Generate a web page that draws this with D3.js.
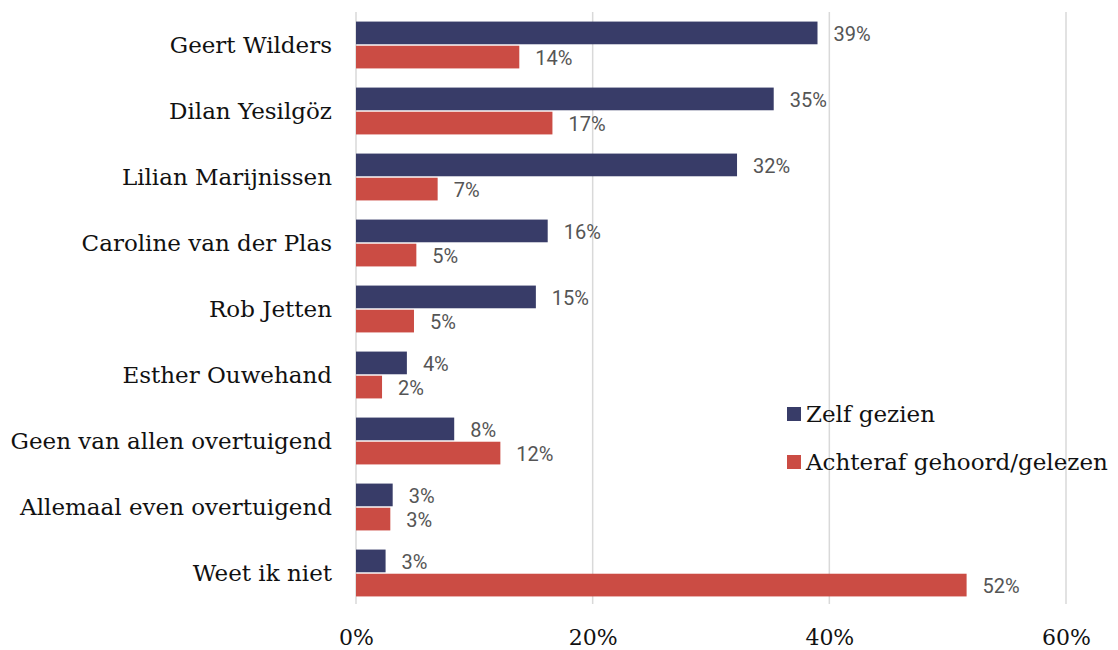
<!DOCTYPE html>
<html>
<head>
<meta charset="utf-8">
<script src="https://cdn.jsdelivr.net/npm/d3@7"></script>
<style>
  body { margin: 0; background: #fff; }
  .cat { font-family: "DejaVu Serif", serif; font-size: 23px; fill: #111; }
  .tick text { font-family: "DejaVu Serif", serif; font-size: 22px; fill: #111; }
  .val { font-family: Roboto, sans-serif; font-size: 20px; fill: #555; }
  .legend text { font-family: "DejaVu Serif", serif; font-size: 23px; fill: #111; }
</style>
</head>
<body>
<div id="chart"></div>
<script>
// categories and series
var categories = ["Geert Wilders", "Dilan Yesilgöz", "Lilian Marijnissen", "Caroline van der Plas",
                  "Rob Jetten", "Esther Ouwehand", "Geen van allen overtuigend",
                  "Allemaal even overtuigend", "Weet ik niet"];
var zelfGezien = [39.0, 35.3, 32.2, 16.2, 15.2, 4.3, 8.3, 3.1, 2.5];
var achteraf   = [13.8, 16.6, 6.9, 5.1, 4.9, 2.2, 12.2, 2.9, 51.6];
var seriesNames = ["Zelf gezien", "Achteraf gehoord/gelezen"];
var xTicks = [0, 20, 40, 60];

var color = ["#383c68", "#cb4c44"];

var margin = {top: 12, right: 52, bottom: 44, left: 356},
    width = 1118 - margin.left - margin.right,
    height = 650 - margin.top - margin.bottom;

var svg = d3.select("#chart").append("svg")
    .attr("width", 1118)
    .attr("height", 650)
  .append("g")
    .attr("transform", "translate(" + margin.left + "," + margin.top + ")");

var x = d3.scaleLinear().domain([0, 60]).range([0, width]);

var y = d3.scaleBand()
    .domain(categories)
    .range([0, 594])
    .paddingInner(0.29)
    .paddingOuter(0.145);

var ySub = d3.scaleBand()
    .domain(seriesNames)
    .range([0, y.bandwidth()])
    .paddingInner(0.06);

// gridlines
svg.selectAll(".grid")
    .data(xTicks)
    .enter().append("line")
    .attr("class", "grid")
    .attr("x1", function(d) { return x(d); })
    .attr("x2", function(d) { return x(d); })
    .attr("y1", 0)
    .attr("y2", 592)
    .style("stroke", "#d9d9d9")
    .style("stroke-width", 1.5);

// x axis labels
var xAxis = d3.axisBottom(x)
    .tickValues(xTicks)
    .tickSize(0)
    .tickPadding(0)
    .tickFormat(function(d) { return d + "%"; });

svg.append("g")
    .attr("class", "x axis")
    .attr("transform", "translate(0," + 617 + ")")
    .call(xAxis)
    .call(function(g) { g.select(".domain").remove(); });

// category labels
svg.selectAll(".cat")
    .data(categories)
    .enter().append("text")
    .attr("class", "cat")
    .attr("x", -24)
    .attr("y", function(d) { return y(d) + y.bandwidth() / 2; })
    .attr("dy", "0.35em")
    .attr("text-anchor", "end")
    .text(function(d) { return d; });

var series = [zelfGezien, achteraf];

series.forEach(function(vals, si) {
    var g = svg.append("g").attr("class", "series");
    var rows = categories.map(function(c, i) { return {cat: c, v: vals[i]}; });

    g.selectAll("rect")
        .data(rows)
        .enter().append("rect")
        .attr("x", x(0))
        .attr("y", function(d) { return y(d.cat) + ySub(seriesNames[si]); })
        .attr("width", function(d) { return x(d.v) - x(0); })
        .attr("height", ySub.bandwidth())
        .style("fill", color[si]);

    g.selectAll("text")
        .data(rows)
        .enter().append("text")
        .attr("class", "val")
        .attr("x", function(d) { return x(d.v) + 16; })
        .attr("y", function(d) { return y(d.cat) + ySub(seriesNames[si]) + ySub.bandwidth() / 2 + 1; })
        .attr("dy", "0.35em")
        .text(function(d) { return Math.round(d.v) + "%"; });
});

// legend
var legend = svg.selectAll(".legend")
    .data(seriesNames)
    .enter().append("g")
    .attr("class", "legend")
    .attr("transform", function(d, i) { return "translate(" + 431 + "," + (395 + i * 48) + ")"; });

legend.append("rect")
    .attr("width", 14)
    .attr("height", 14)
    .style("fill", function(d, i) { return color[i]; });

legend.append("text")
    .attr("x", 19)
    .attr("y", 7)
    .attr("dy", "0.35em")
    .text(function(d) { return d; });
</script>
</body>
</html>
